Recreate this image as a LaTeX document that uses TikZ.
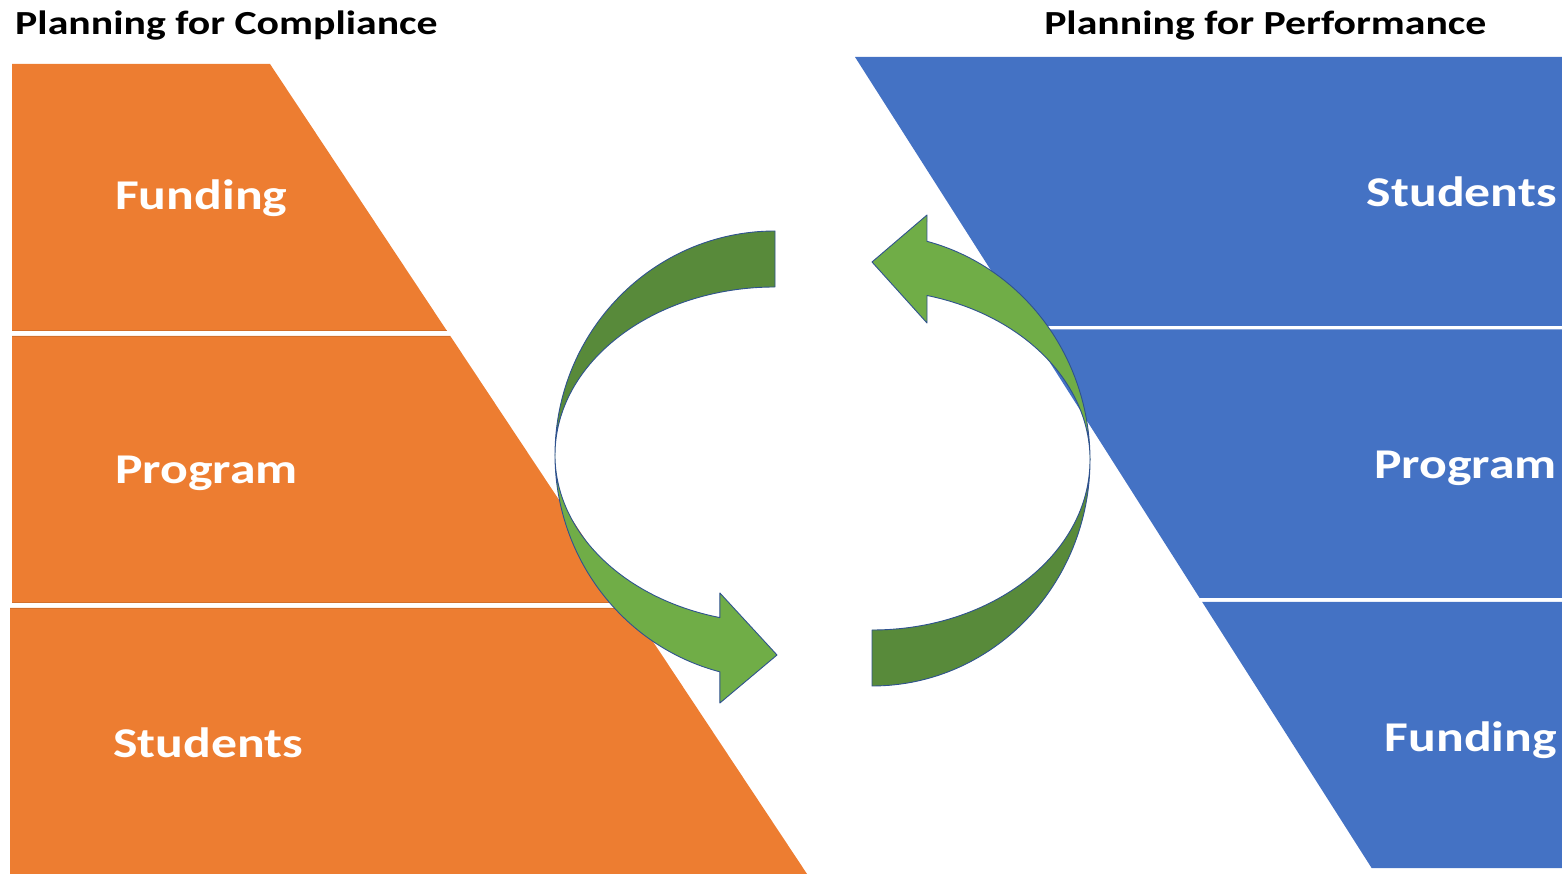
\documentclass[tikz,border=0pt]{standalone}
\usepackage{fontspec}
\setmainfont{Carlito}
\definecolor{compOrange}{HTML}{ED7D31}
\definecolor{perfBlue}{HTML}{4472C4}
\definecolor{arrowLight}{HTML}{70AD47}
\definecolor{arrowDark}{HTML}{588A3A}
\definecolor{arrowEdge}{HTML}{2F528F}
\begin{document}
\begin{tikzpicture}[x=1pt,y=1pt,
  orangeband/.style={fill=compOrange,draw=none},
  blueband/.style={fill=perfBlue,draw=none},
  gapedge/.style={draw=compOrange!75!black,opacity=0.45,line width=1},
  frontpart/.style={fill=arrowLight,draw=arrowEdge,line width=0.9,line join=round},
  backpart/.style={fill=arrowDark,draw=arrowEdge,line width=0.9,line join=round},
  lbl/.style={font=\bfseries\fontsize{42.4}{50}\selectfont,text=white,inner sep=0,xscale=1.22},
  ttl/.style={font=\bfseries\fontsize{33.7}{40}\selectfont,text=black,inner sep=0,xscale=1.24}]
\useasboundingbox (0,0) rectangle (1562,873);
\clip (0,0) rectangle (1562,873);

% Planning for Compliance: pyramid in three bands
\fill[orangeband] (12,809) -- (270,809) -- (447,542) -- (12,542) -- cycle;
\fill[orangeband] (12,537) -- (450.3,537) -- (627.4,270) -- (12,270) -- cycle;
\fill[orangeband] (10,265) -- (630.7,265) -- (809.7,-5) -- (10,-5) -- cycle;
\draw[gapedge] (12,542.5) -- (447,542.5);
\draw[gapedge] (12,536.5) -- (450.3,536.5);
\draw[gapedge] (12,270.5) -- (627.4,270.5);
\draw[gapedge] (10,264.5) -- (630.7,264.5);

% Planning for Performance: inverted pyramid in three bands
\fill[blueband] (855,816) -- (1600,816) -- (1600,547) -- (1026.4,547) -- cycle;
\fill[blueband] (1028.9,543.5) -- (1600,543.5) -- (1600,275) -- (1199.6,275) -- cycle;
\fill[blueband] (1202.2,271) -- (1600,271) -- (1600,5) -- (1371.6,5) -- cycle;

% Left circular arrow (back half dark, front half light)
\draw[backpart] (775,642) arc[start angle=90,end angle=180,x radius=220,y radius=224]
  arc[start angle=180,end angle=90,x radius=220,y radius=168] -- cycle;
\draw[frontpart] (555,418) arc[start angle=180,end angle=255.5,x radius=220,y radius=224]
  -- (719.9,170) -- (777,218) -- (719.9,280) -- (719.9,255.4)
  arc[start angle=255.5,end angle=180,x radius=220,y radius=168] -- cycle;

% Right circular arrow
\draw[backpart] (872,187) arc[start angle=270,end angle=360,x radius=218,y radius=226]
  arc[start angle=360,end angle=270,x radius=218,y radius=170] -- cycle;
\draw[frontpart] (1090,413) arc[start angle=0,end angle=75.4,x radius=218,y radius=226]
  -- (927,658) -- (872,611) -- (927,550) -- (927,577.5)
  arc[start angle=75.4,end angle=0,x radius=218,y radius=170] -- cycle;

% Band labels
\node[lbl,anchor=base west] (cfund) at (115,663) {Funding};
\node[lbl,anchor=base west] (cprog) at (115,389) {Program};
\node[lbl,anchor=base west] (cstud) at (113,116) {Students};
\node[lbl,anchor=base east] (pstud) at (1557,666) {Students};
\node[lbl,anchor=base east] (pprog) at (1557,394) {Program};
\node[lbl,anchor=base east] (pfund) at (1557,122) {Funding};

% Titles
\node[ttl,anchor=base west] (tcomp) at (15,838) {Planning for Compliance};
\node[ttl,anchor=base west] (tperf) at (1044,838) {Planning for Performance};
\end{tikzpicture}
\end{document}
